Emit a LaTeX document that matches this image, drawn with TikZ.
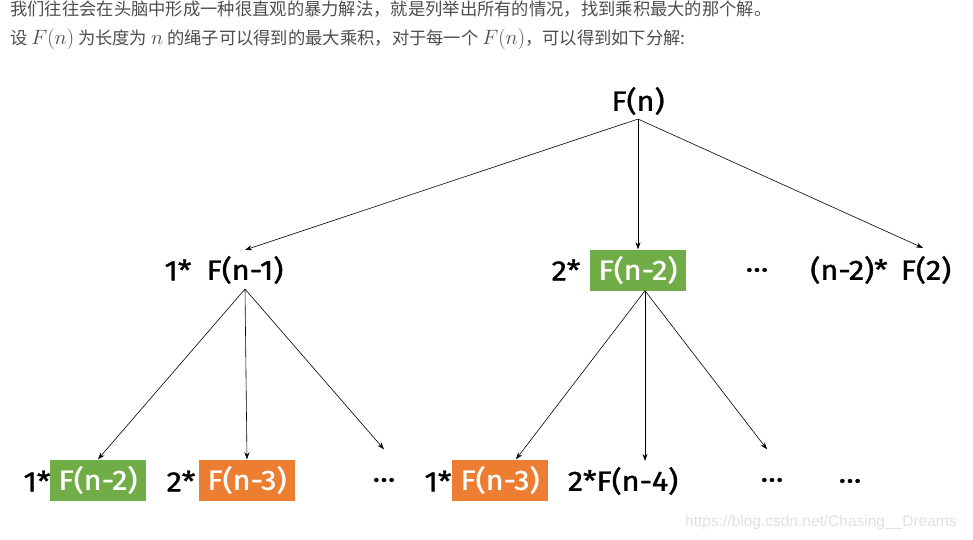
\documentclass[tikz,border=0pt]{standalone}
\usepackage{fontspec}
\setmainfont{Fira Sans}
\newfontfamily\cjk{Noto Sans CJK SC}
\newfontfamily\bigfont[FakeStretch=1.1,FakeBold=1.2]{Fira Sans}
\newfontfamily\wmfont{Liberation Sans}
\usetikzlibrary{arrows.meta}
\definecolor{hdr}{HTML}{4D4D4D}
\definecolor{gbox}{HTML}{70AD47}
\definecolor{obox}{HTML}{ED7D31}
\newcommand{\hm}[1]{{\fontsize{21}{24}\selectfont$#1$}}
\tikzset{
  big/.style={font=\bigfont\fontsize{28}{30}\selectfont, inner sep=0pt, text=black},
  gfill/.style={big, fill=gbox, text=white, minimum width=96pt, minimum height=41pt},
  ofill/.style={big, fill=obox, text=white, minimum width=96pt, minimum height=41pt},
  dotsn/.style={big, minimum height=41pt},
  arr/.style={-{Stealth[length=7pt,width=5pt]}, line width=0.6pt, draw=black},
  hdrline/.style={anchor=base west, inner sep=0pt, text=hdr, font=\cjk\fontsize{17.3}{20}\selectfont}
}
\begin{document}
\begin{tikzpicture}[x=1pt,y=-1pt]
\useasboundingbox (0,0) rectangle (973,539);
% header
\node[hdrline] (h1) at (10,15) {我们往往会在头脑中形成一种很直观的暴力解法，就是列举出所有的情况，找到乘积最大的那个解。};
\node[hdrline] (h2) at (10,44) {设 \hm{F(n)} 为长度为 \hm{n} 的绳子可以得到的最大乘积，对于每一个 \hm{F(n)}，可以得到如下分解:};
% level 0
\node[big] (fn) at (638,101) {F(n)};
% level 1
\node[big] (l1a) at (178,270) {1*};
\node[big] (f1) at (245,270) {F(n-1)};
\node[big] (l1b) at (566,270) {2*};
\node[gfill] (f2) at (638,270) {F(n-2)};
\node[big] (d1) at (757,270) {…};
\node[big] (l1c) at (849,270) {(n-2)*};
\node[big] (f3) at (926,270) {F(2)};
% level 2
\node[big] (l2a) at (37,481) {1*};
\node[gfill] (g1) at (98,480) {F(n-2)};
\node[big] (l2b) at (181,481) {2*};
\node[ofill] (g2) at (247,480) {F(n-3)};
\node[dotsn] (d2) at (384,480) {…};
\node[big] (l2c) at (438,481) {1*};
\node[ofill] (g3) at (500,480) {F(n-3)};
\node[big] (g4) at (623,481) {2*F(n-4)};
\node[dotsn] (d3) at (772,480) {…};
\node[big] (d4) at (850,481) {…};
% watermark
\node[anchor=base west, inner sep=0pt, text=black!12, font=\wmfont\fontsize{15.5}{18}\selectfont] (wm) at (685,526) {https://blog.csdn.net/Chasing\_\_Dreams};
% arrows
\coordinate (s0) at ([yshift=-4pt]fn.south);
\draw[arr] (s0) -- ([yshift=6pt]f1.north);
\draw[arr] (s0) -- (f2.north);
\draw[arr] (s0) -- ([xshift=-3pt,yshift=8pt]f3.north);
\coordinate (s1) at ([yshift=-5pt]f1.south);
\draw[arr] (s1) -- (g1.north);
\draw[arr] (s1) -- (g2.north);
\draw[arr] (s1) -- ([yshift=10pt]d2.north);
\coordinate (s2) at ([xshift=7pt]f2.south);
\draw[arr] (s2) -- ([xshift=16pt]g3.north);
\draw[arr] (s2) -- ([xshift=22pt,yshift=6pt]g4.north);
\draw[arr] (s2) -- ([xshift=-5pt,yshift=10pt]d3.north);
\end{tikzpicture}
\end{document}
